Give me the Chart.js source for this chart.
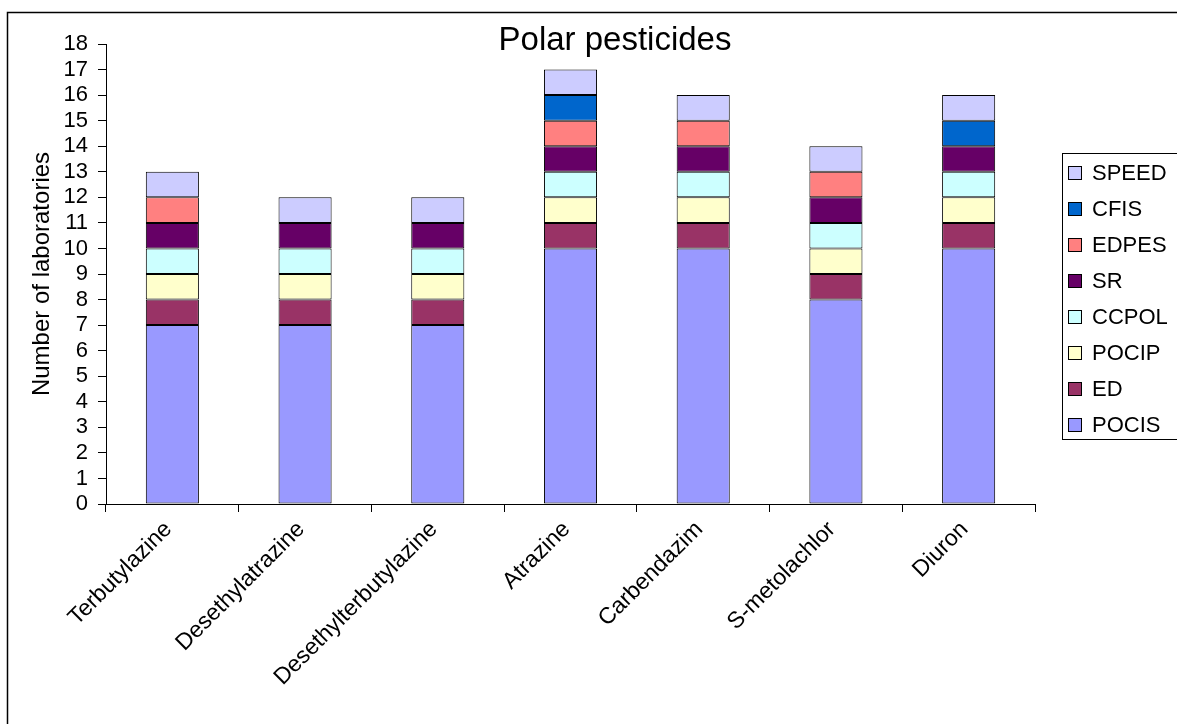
<!DOCTYPE html>
<html>
<head>
<meta charset="utf-8">
<script src="https://cdn.jsdelivr.net/npm/chart.js@4/dist/chart.umd.min.js"></script>
<style>
html,body{margin:0;padding:0;background:#fff;}
#wrap{width:1177px;height:724px;position:relative;}
</style>
</head>
<body>
<div id="wrap"><canvas id="c" width="1177" height="724"></canvas></div>
<script>
const categories = ["Terbutylazine","Desethylatrazine","Desethylterbutylazine","Atrazine","Carbendazim","S-metolachlor","Diuron"];
const POCIS = [7,7,7,10,10,8,10];
const ED    = [1,1,1,1,1,1,1];
const POCIP = [1,1,1,1,1,1,1];
const CCPOL = [1,1,1,1,1,1,1];
const SR    = [1,1,1,1,1,1,1];
const EDPES = [1,0,0,1,1,1,0];
const CFIS  = [0,0,0,1,0,0,1];
const SPEED = [1,1,1,1,1,1,1];
const seriesNames = ["POCIS","ED","POCIP","CCPOL","SR","EDPES","CFIS","SPEED"];
const seriesData = [POCIS,ED,POCIP,CCPOL,SR,EDPES,CFIS,SPEED];
const seriesColors = ["#9999FF","#993366","#FFFFCC","#CCFFFF","#660066","#FF8080","#0066CC","#CCCCFF"];
const chartTitle = "Polar pesticides";
const yTitle = "Number of laboratories";

const FONT = '"Liberation Sans", Arial, sans-serif';

const frame = {
  id:'frame',
  beforeDraw(chart){
    const c = chart.ctx;
    c.save();
    c.fillStyle='#fff';
    c.fillRect(0,0,chart.width,chart.height);
    c.strokeStyle='#000';
    c.lineWidth=1.5;
    c.strokeRect(7.5,12.5,2000,2000);
    c.restore();
  },
  afterDraw(chart){
    const c = chart.ctx;
    c.save();
    // title
    c.fillStyle='#000';
    c.font = '33px ' + FONT;
    c.textAlign='center';
    c.textBaseline='alphabetic';
    c.fillText(chartTitle, 615, 50);
    // legend
    const lx=1062, ly=153, lh=286;
    c.strokeStyle='#000';
    c.lineWidth=1;
    c.strokeRect(lx+0.5, ly+0.5, 300, lh);
    c.font = '22px ' + FONT;
    c.textAlign='left';
    c.textBaseline='middle';
    const ds = chart.data.datasets;
    for(let i=0;i<ds.length;i++){
      const d = ds[ds.length-1-i];
      const cy = 173 + i*36;
      c.fillStyle=d.backgroundColor;
      c.fillRect(lx+6, cy-7, 13, 13);
      c.strokeStyle='#000';
      c.lineWidth=1;
      c.strokeRect(lx+6.5, cy-6.5, 13, 13);
      c.fillStyle='#000';
      c.fillText(d.label, lx+30, cy+1);
    }
    c.restore();
  }
};

new Chart(document.getElementById('c'), {
  type:'bar',
  data:{
    labels: categories,
    datasets: seriesNames.map((n,i)=>({
      label:n,
      data:seriesData[i],
      backgroundColor:seriesColors[i],
      borderColor:'#000',
      borderWidth: ctx => ctx.raw ? 1 : 0,
      borderSkipped:false,
      barPercentage:0.4,
      categoryPercentage:1
    }))
  },
  options:{
    responsive:false,
    animation:false,
    devicePixelRatio:1,
    layout:{padding:{left:20,top:44,right:142,bottom:0}},
    plugins:{legend:{display:false},title:{display:false},tooltip:{enabled:false}},
    scales:{
      x:{
        stacked:true,
        grid:{display:true,drawOnChartArea:false,color:'#000',tickLength:8,offset:true},
        border:{display:true,color:'#000',width:1},
        ticks:{color:'#000',font:{family:FONT,size:23},minRotation:45,maxRotation:45,autoSkip:false,labelOffset:-4,padding:4},
        afterFit(s){ s.height = 220; }
      },
      y:{
        stacked:true,
        min:0,max:18,
        grid:{display:true,drawOnChartArea:false,color:'#000',tickLength:8},
        border:{display:true,color:'#000',width:1},
        ticks:{color:'#000',stepSize:1,autoSkip:false,font:{family:FONT,size:22},padding:10},
        title:{display:true,text:yTitle,color:'#000',font:{family:FONT,size:24},padding:{top:8,bottom:0}},
        afterFit(s){ s.width = 86; }
      }
    }
  },
  plugins:[frame]
});
</script>
</body>
</html>
